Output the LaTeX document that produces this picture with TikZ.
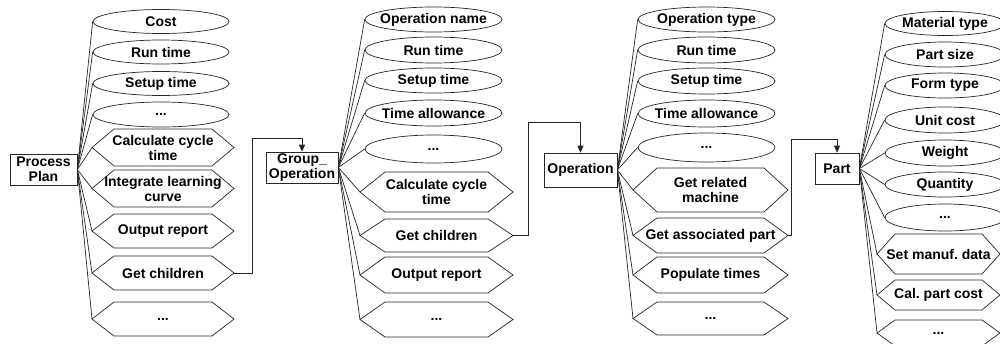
\documentclass[tikz,border=0pt]{standalone}
\usepackage{fontspec}
\setmainfont{Liberation Sans}
\frenchspacing
\usetikzlibrary{arrows.meta,shapes.geometric}
\tikzset{
  ln/.style={draw=black!85, line width=0.7pt},
  ellbox/.style={ellipse, ln, inner sep=0pt, fill=white},
  lbl/.style={inner sep=0pt, align=center, font=\fontsize{14}{15}\selectfont\bfseries},
  boxn/.style={rectangle, ln, fill=white, inner sep=0pt, align=center, font=\fontsize{14}{15}\selectfont\bfseries},
  arr/.style={ln, -{Triangle[length=7pt,width=6pt]}},
}
\newcommand\ellnode[6]{% name, cx, cy, rx, ry, text
  \node[ellbox, minimum width={2*#4}, minimum height={2*#5}] (#1) at (#2,#3) {};
  \node[lbl] (#1t) at (#1.center) {#6};
}
\newcommand\hexnode[7]{% name, cx, cy, hw, hh, slant, text
  \coordinate (#1-l) at ({#2-#4},#3);
  \coordinate (#1-r) at ({#2+#4},#3);
  \draw[ln] (#1-l) -- ({#2-#4+#6},{#3-#5}) -- ({#2+#4-#6},{#3-#5}) -- (#1-r)
     -- ({#2+#4-#6},{#3+#5}) -- ({#2-#4+#6},{#3+#5}) -- cycle;
  \node[lbl] (#1) at (#2,#3) {#7};
}
\begin{document}
\begin{tikzpicture}[x=1pt,y=-1pt]
\fill[white] (0,0) rectangle (1000,343);
\useasboundingbox (0,0) rectangle (1000,343);

% ---------- Panel 1 ----------
\node[boxn, minimum width=67, minimum height=31] (pp) at (43.5,169.5) {Process\\Plan};
\ellnode{e11}{161}{21.5}{68}{12}{Cost}
\ellnode{e12}{161}{52}{68}{12}{Run time}
\ellnode{e13}{161}{83.5}{68}{12}{Setup time}
\ellnode{e14}{161}{114.5}{68}{12.5}{...}
\hexnode{h11}{163}{147.5}{71}{18.5}{22}{Calculate cycle\\time}
\hexnode{h12}{163}{188.5}{71}{18.5}{22}{Integrate learning\\curve}
\hexnode{h13}{163}{231}{71}{17}{22}{Output report}
\hexnode{h14}{163}{273}{71}{17}{22}{Get children}
\hexnode{h15}{163}{319}{71}{17}{22}{...}
\foreach \n in {e11,e12,e13,e14} \draw[ln] (pp.east) -- (\n.west);
\foreach \n in {h11,h12,h13,h14,h15} \draw[ln] (pp.east) -- (\n-l);

% ---------- Panel 2 ----------
\node[boxn, minimum width=72, minimum height=31] (go) at (302,167.5) {Group\_\\Operation};
\ellnode{e21}{433.5}{19.5}{68.5}{12.5}{Operation name}
\ellnode{e22}{433.5}{50}{68.5}{13}{Run time}
\ellnode{e23}{433.5}{80.5}{68.5}{12.5}{Setup time}
\ellnode{e24}{433.5}{113}{68.5}{13}{Time allowance}
\ellnode{e25}{433.5}{149}{68.5}{14}{...}
\hexnode{h21}{436.5}{192}{76.5}{20}{25}{Calculate cycle\\time}
\hexnode{h22}{436.5}{235.5}{76.5}{16.5}{25}{Get children}
\hexnode{h23}{436.5}{275}{76.5}{18}{25}{Output report}
\hexnode{h24}{436.5}{319.5}{76.5}{17.5}{25}{...}
\foreach \n in {e21,e22,e23,e24,e25} \draw[ln] (go.east) -- (\n.west);
\foreach \n in {h21,h22,h23,h24} \draw[ln] (go.east) -- (\n-l);

% ---------- Panel 3 ----------
\node[boxn, minimum width=73, minimum height=34] (op) at (580.5,170) {Operation};
\ellnode{e31}{706.5}{19.5}{68.5}{12.5}{Operation type}
\ellnode{e32}{706.5}{50}{68.5}{13}{Run time}
\ellnode{e33}{706.5}{81}{68.5}{13}{Setup time}
\ellnode{e34}{706.5}{113.5}{68.5}{13.5}{Time allowance}
\ellnode{e35}{706.5}{147.5}{68.5}{14.5}{...}
\hexnode{h31}{710.5}{190}{77.5}{22}{24}{Get related\\machine}
\hexnode{h32}{710.5}{235.5}{77.5}{17.5}{24}{Get associated part}
\hexnode{h33}{710.5}{275}{77.5}{18}{24}{Populate times}
\hexnode{h34}{710.5}{318.5}{77.5}{16.5}{24}{...}
\foreach \n in {e31,e32,e33,e34,e35} \draw[ln] (op.east) -- (\n.west);
\foreach \n in {h31,h32,h33,h34} \draw[ln] (op.east) -- (\n-l);

% ---------- Panel 4 ----------
\node[boxn, minimum width=44, minimum height=31] (pt) at (837,168.5) {Part};
\ellnode{e41}{945}{23.5}{60}{12}{Material type}
\ellnode{e42}{945}{54.5}{60}{12.5}{Part size}
\ellnode{e43}{945}{85.5}{60}{12.5}{Form type}
\ellnode{e44}{945}{120}{60}{13}{Unit cost}
\ellnode{e45}{945}{153}{60}{13}{Weight}
\ellnode{e46}{945}{184.5}{60}{12.5}{Quantity}
\ellnode{e47}{945}{217.5}{60}{13.5}{...}
\hexnode{h41}{938.5}{254}{61.5}{20}{18}{Set manuf. data}
\hexnode{h42}{938.5}{295}{61.5}{15}{18}{Cal. part cost}
\hexnode{h43}{938.5}{333}{61.5}{13}{18}{...}
\foreach \n in {e41,e42,e43,e44,e45,e46,e47} \draw[ln] (pt.east) -- (\n.west);
\foreach \n in {h41,h42,h43} \draw[ln] (pt.east) -- (\n-l);

% ---------- Links between classes ----------
\coordinate (k1) at (252,138);
\coordinate (k2) at (528,122);
\coordinate (k3) at (791,139);
\draw[arr] (h14-r) -| (k1) -| (go.north);
\draw[arr] (h22-r) -| (k2) -| (op.north);
\draw[arr] (h32-r) -| (k3) -| (pt.north);
\end{tikzpicture}
\end{document}
